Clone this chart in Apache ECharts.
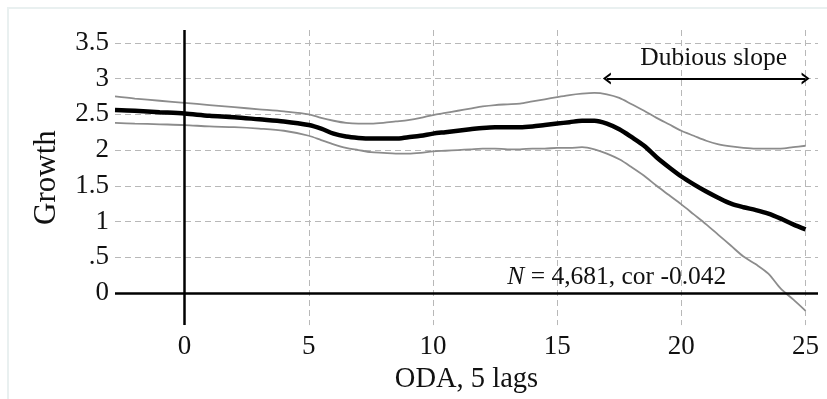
<!DOCTYPE html>
<html>
<head>
<meta charset="utf-8">
<script src="https://cdn.jsdelivr.net/npm/echarts@6/dist/echarts.min.js"></script>
<style>
  html, body { margin: 0; padding: 0; background: #fff; }
  #chart { width: 827px; height: 399px; }
</style>
</head>
<body>
<div id="chart"></div>
<script>
// ODA lag (x) and smoothed growth fit with its confidence band
const lags = [-2.8, -2, -1, 0, 1, 2, 3, 4, 5, 5.5, 6, 6.5, 7, 7.5, 8, 8.5, 9, 9.5, 10, 10.5,
  11, 11.5, 12, 12.5, 13, 13.5, 14, 14.5, 15, 15.5, 16, 16.5, 17, 17.5, 18, 18.5, 19, 19.5,
  20, 20.5, 21, 21.5, 22, 22.5, 23, 23.5, 24, 24.5, 25];
const fit = [2.56, 2.55, 2.53, 2.51, 2.48, 2.46, 2.43, 2.40, 2.35, 2.30, 2.23, 2.19, 2.17, 2.16,
  2.16, 2.16, 2.18, 2.20, 2.23, 2.25, 2.27, 2.29, 2.31, 2.32, 2.32, 2.32, 2.33, 2.35, 2.37,
  2.39, 2.41, 2.41, 2.37, 2.29, 2.18, 2.06, 1.90, 1.76, 1.63, 1.52, 1.42, 1.33, 1.25, 1.20,
  1.16, 1.11, 1.04, 0.96, 0.89];
const upper = [2.75, 2.72, 2.69, 2.66, 2.63, 2.60, 2.57, 2.54, 2.50, 2.45, 2.41, 2.38, 2.37, 2.37,
  2.38, 2.40, 2.42, 2.45, 2.49, 2.52, 2.55, 2.58, 2.61, 2.63, 2.64, 2.65, 2.68, 2.71, 2.74,
  2.77, 2.79, 2.80, 2.78, 2.73, 2.64, 2.55, 2.45, 2.36, 2.27, 2.20, 2.13, 2.08, 2.05, 2.03,
  2.02, 2.02, 2.02, 2.04, 2.06];
const lower = [2.38, 2.37, 2.36, 2.35, 2.33, 2.32, 2.30, 2.27, 2.20, 2.14, 2.08, 2.03, 2.00, 1.97,
  1.96, 1.95, 1.95, 1.96, 1.98, 1.99, 2.00, 2.01, 2.02, 2.02, 2.01, 2.01, 2.02, 2.02, 2.03,
  2.03, 2.04, 2.01, 1.95, 1.87, 1.76, 1.64, 1.50, 1.37, 1.24, 1.10, 0.96, 0.81, 0.66, 0.51,
  0.40, 0.27, 0.06, -0.09, -0.25];

const xTicks = [0, 5, 10, 15, 20, 25];
const yTicks = [0, 0.5, 1, 1.5, 2, 2.5, 3, 3.5];
const yTickLabels = ['0', '.5', '1', '1.5', '2', '2.5', '3', '3.5'];

// annotation: "dubious slope" span and sample summary
const dubiousSpan = [17, 25];
const dubiousLevel = 3;
const summaryText = '{i|N} = 4,681, cor -0.042';

const FONT = '"Liberation Serif", "Times New Roman", serif';
// open chevron arrow head
const CHEVRON = 'path://M0,10 L5,0 L10,10 L7.9,10 L5,3.8 L2.1,10 Z';

function pairs(ys) { return lags.map((x, i) => [x, ys[i]]); }
function near(list, v) { return list.findIndex(t => Math.abs(t - v) < 1e-9); }

const chart = echarts.init(document.getElementById('chart'), null, { renderer: 'canvas' });

chart.setOption({
  animation: false,
  backgroundColor: '#ffffff',
  grid: { left: 115, right: 9, top: 30, bottom: 72 },
  xAxis: {
    type: 'value',
    min: -2.8,
    max: 25.5,
    splitNumber: 6,
    name: 'ODA, 5 lags',
    nameLocation: 'middle',
    nameGap: 35,
    nameTextStyle: { fontFamily: FONT, fontSize: 28.5, color: '#111' },
    axisLine: { show: false },
    axisTick: { show: false },
    axisLabel: {
      margin: 8,
      fontFamily: FONT, fontSize: 27, color: '#111',
      formatter: v => (near(xTicks, v) >= 0 ? String(v) : '')
    },
    splitLine: {
      show: true, showMinLine: false, showMaxLine: false,
      lineStyle: { color: '#b8b8b8', width: 1, type: [6, 4] }
    }
  },
  yAxis: {
    type: 'value',
    min: -0.45,
    max: 3.68,
    splitNumber: 8,
    name: 'Growth',
    nameLocation: 'middle',
    nameGap: 53,
    nameTextStyle: { fontFamily: FONT, fontSize: 31, color: '#111' },
    axisLine: { show: false },
    axisTick: { show: false },
    axisLabel: {
      margin: 6,
      fontFamily: FONT, fontSize: 27, color: '#111',
      formatter: v => { const k = near(yTicks, v); return k >= 0 ? yTickLabels[k] : ''; }
    },
    splitLine: {
      show: true, showMinLine: false, showMaxLine: false,
      lineStyle: { color: '#b8b8b8', width: 1, type: [6, 4] }
    }
  },
  series: [
    {
      name: 'zero lines',
      type: 'line',
      data: [],
      silent: true,
      markLine: {
        silent: true,
        symbol: 'none',
        label: { show: false },
        lineStyle: { color: '#000', width: 2.5, type: 'solid' },
        data: [{ xAxis: 0 }, { yAxis: 0 }]
      },
      z: 3
    },
    {
      name: 'upper',
      type: 'line',
      data: pairs(upper),
      smooth: 0.3,
      showSymbol: false,
      lineStyle: { color: '#8c8c8c', width: 1.8 },
      z: 4
    },
    {
      name: 'lower',
      type: 'line',
      data: pairs(lower),
      smooth: 0.3,
      showSymbol: false,
      lineStyle: { color: '#8c8c8c', width: 1.8 },
      z: 4
    },
    {
      name: 'fit',
      type: 'line',
      data: pairs(fit),
      smooth: 0.3,
      showSymbol: false,
      lineStyle: { color: '#000', width: 4.5 },
      z: 5,
      markLine: {
        silent: true,
        symbol: [CHEVRON, CHEVRON],
        symbolSize: [12, 8],
        label: { show: false },
        lineStyle: { color: '#000', width: 2.2, type: 'solid' },
        data: [[
          { coord: [dubiousSpan[0], dubiousLevel] },
          { coord: [dubiousSpan[1], dubiousLevel] }
        ]]
      }
    }
  ]
});

// Text annotations anchored to data coordinates
const pDub = chart.convertToPixel({ gridIndex: 0 }, [21.3, 3.17]);
const pSum = chart.convertToPixel({ gridIndex: 0 }, [17.4, 0.11]);

chart.setOption({
  graphic: [
    {
      type: 'rect',
      silent: true,
      shape: { x: 8, y: 8, width: 840, height: 420 },
      style: { fill: 'none', stroke: '#e9f0f0', lineWidth: 2 },
      z: 0
    },
    {
      type: 'text',
      silent: true,
      x: pDub[0], y: pDub[1] + 5,
      style: {
        text: 'Dubious slope',
        fontFamily: FONT, fontSize: 25.5, fill: '#111',
        align: 'center', verticalAlign: 'bottom'
      },
      z: 10
    },
    {
      type: 'text',
      silent: true,
      x: pSum[0], y: pSum[1] + 5,
      style: {
        text: summaryText,
        fontFamily: FONT, fontSize: 25.5, fill: '#111',
        align: 'center', verticalAlign: 'bottom',
        rich: { i: { fontFamily: FONT, fontSize: 25.5, fontStyle: 'italic', fill: '#111' } }
      },
      z: 10
    }
  ]
});
</script>
</body>
</html>
